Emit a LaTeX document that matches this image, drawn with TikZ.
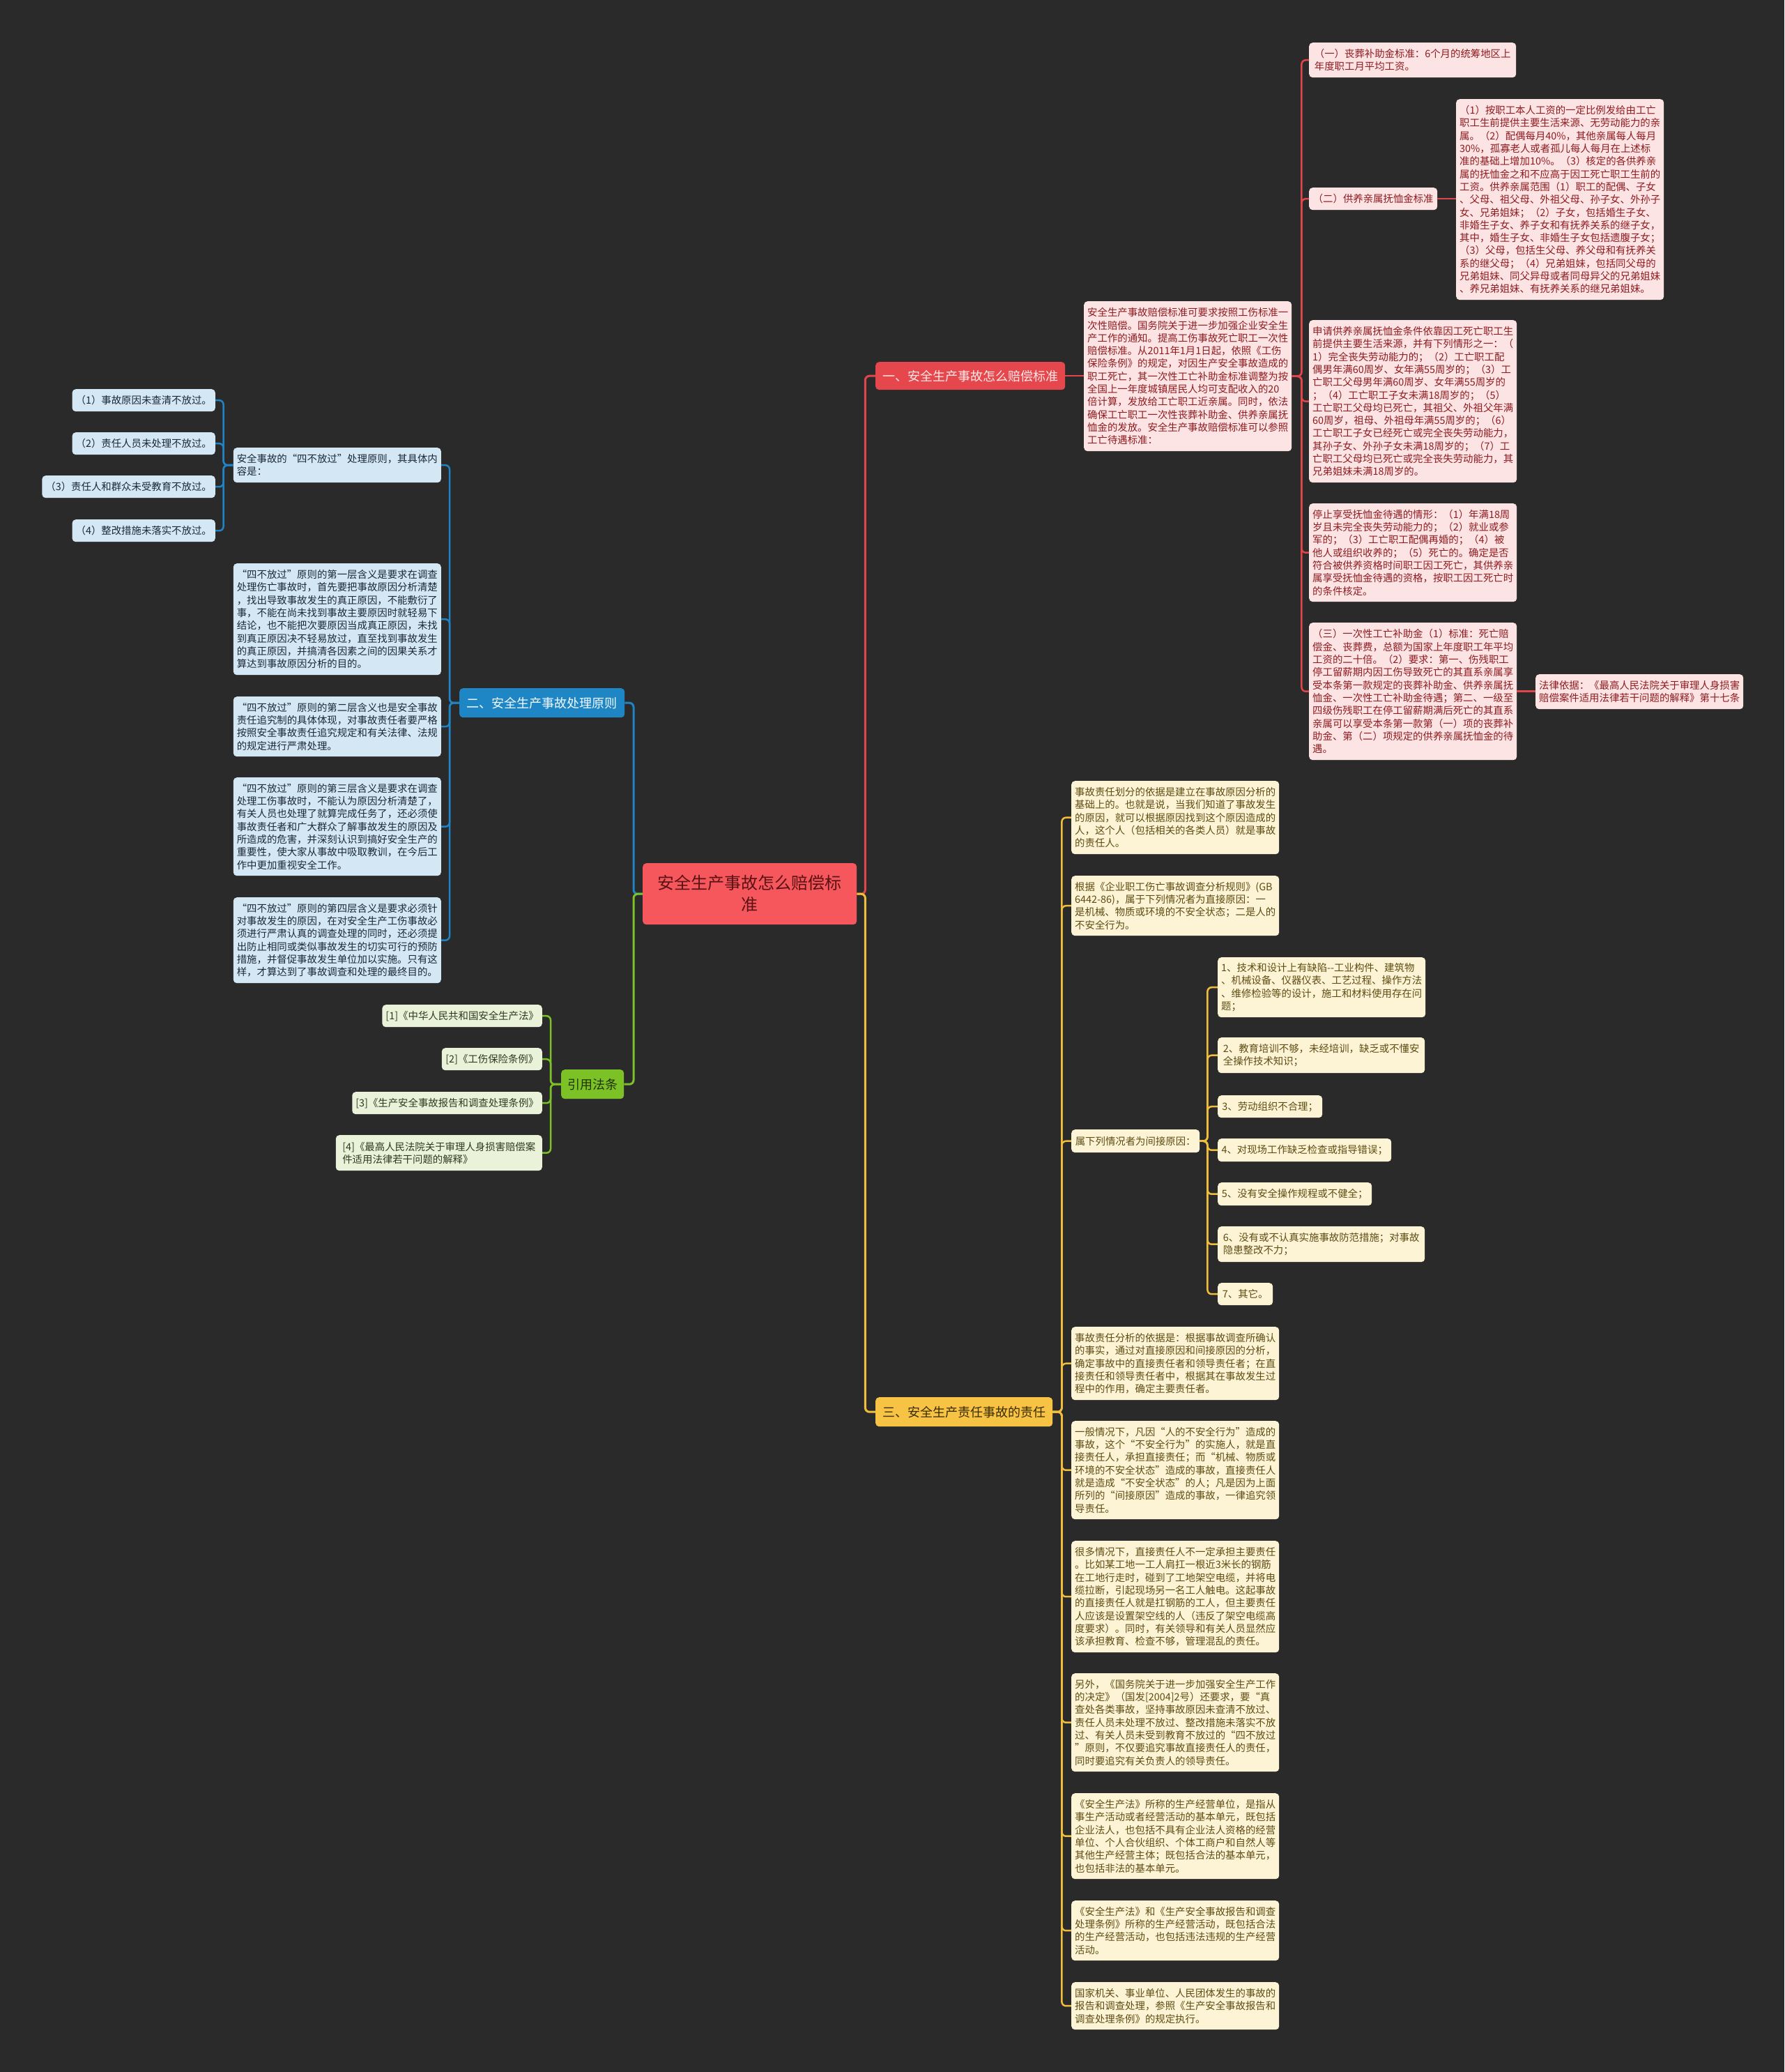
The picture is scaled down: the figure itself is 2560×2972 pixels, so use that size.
\documentclass[tikz,border=0pt]{standalone}
\usepackage{fontspec}
\setmainfont{Noto Sans CJK SC}
\newcommand\bodyf{\fontsize{14.4}{18.3}\selectfont}
\newcommand\brf{\fontsize{18}{22}\selectfont}
\newcommand\rtf{\fontsize{24}{31}\selectfont}
\definecolor{bg}{HTML}{2A2A2A}
\definecolor{rootfill}{HTML}{F6575C}
\definecolor{roottext}{HTML}{5A1215}
\definecolor{pkbr}{HTML}{E6474C}
\definecolor{pkbrtext}{HTML}{FFE8E8}
\definecolor{pkline}{HTML}{E0474C}
\definecolor{pkfill}{HTML}{FDE4E4}
\definecolor{pktext}{HTML}{8E1B20}
\definecolor{blbr}{HTML}{1F86C6}
\definecolor{blbrtext}{HTML}{F2F9FF}
\definecolor{blline}{HTML}{2083C4}
\definecolor{blfill}{HTML}{D4E7F4}
\definecolor{bltext}{HTML}{1B2838}
\definecolor{gnbr}{HTML}{7CC227}
\definecolor{gnbrtext}{HTML}{1E3308}
\definecolor{gnline}{HTML}{7CC227}
\definecolor{gnfill}{HTML}{EAF3DA}
\definecolor{gntext}{HTML}{2E3A1E}
\definecolor{ylbr}{HTML}{F6C344}
\definecolor{ylbrtext}{HTML}{3B2C00}
\definecolor{ylline}{HTML}{F0BE3A}
\definecolor{ylfill}{HTML}{FDF4D6}
\definecolor{yltext}{HTML}{5E4C12}
\tikzset{
  boxbase/.style={rounded corners=5pt, inner xsep=5pt, inner ysep=5pt},
  pk/.style={boxbase, fill=pkfill, text=pktext, font=\bodyf, align=left},
  bl/.style={boxbase, fill=blfill, text=bltext, font=\bodyf, align=left},
  gn/.style={boxbase, fill=gnfill, text=gntext, font=\bodyf, align=left},
  yl/.style={boxbase, fill=ylfill, text=yltext, font=\bodyf, align=left},
  pkb/.style={boxbase, fill=pkbr, text=pkbrtext, font=\brf},
  blb/.style={boxbase, fill=blbr, text=blbrtext, font=\brf},
  gnb/.style={boxbase, fill=gnbr, text=gnbrtext, font=\brf},
  ylb/.style={boxbase, fill=ylbr, text=ylbrtext, font=\brf},
  rt/.style={boxbase, fill=rootfill, text=roottext, font=\rtf, align=center},
  pkl/.style={draw=pkline, line width=2.5pt, rounded corners=6pt},
  bll/.style={draw=blline, line width=2.5pt, rounded corners=6pt},
  gnl/.style={draw=gnline, line width=2.5pt, rounded corners=6pt},
  yll/.style={draw=ylline, line width=2.5pt, rounded corners=6pt},
  thick line/.style={line width=3pt}
}
\newcommand\mbL[7]{\node[#2,anchor=north west,minimum width=#5pt,minimum height=#6pt] (#1) at (#3,#4) {#7};}
\newcommand\mbR[7]{\node[#2,anchor=north east,minimum width=#5pt,minimum height=#6pt] (#1) at (#3,#4) {#7};}
\newcommand\cnR[4]{\draw[#1] (#2.east) -- ++(#4,0) |- (#3.west);}
\newcommand\cnL[4]{\draw[#1] (#2.west) -- ++(-#4,0) |- (#3.east);}
\begin{document}
\begin{tikzpicture}[x=1pt,y=-1pt]
\fill[bg] (0,0) rectangle (2560,2972);
\useasboundingbox (0,0) rectangle (2560,2972);

% root
\mbL{root}{rt}{922}{1238}{307}{88}{安全生产事故怎么赔偿标\\准}

% ---------- branch 1 (pink)
\mbL{b1}{pkb}{1256}{519}{272}{40}{一、安全生产事故怎么赔偿标准}
\mbL{p0}{pk}{1555}{432}{297}{215}{安全生产事故赔偿标准可要求按照工伤标准一\\次性赔偿。国务院关于进一步加强企业安全生\\产工作的通知。提高工伤事故死亡职工一次性\\赔偿标准。从2011年1月1日起，依照《工伤\\保险条例》的规定，对因生产安全事故造成的\\职工死亡，其一次性工亡补助金标准调整为按\\全国上一年度城镇居民人均可支配收入的20\\倍计算，发放给工亡职工近亲属。同时，依法\\确保工亡职工一次性丧葬补助金、供养亲属抚\\恤金的发放。安全生产事故赔偿标准可以参照\\工亡待遇标准：}
\mbL{p1}{pk}{1878}{61}{297}{50}{（一）丧葬补助金标准：6个月的统筹地区上\\年度职工月平均工资。}
\mbL{p2}{pk}{1878}{269}{184}{32}{（二）供养亲属抚恤金标准}
\mbL{p2a}{pk}{2089}{142}{297}{288}{（1）按职工本人工资的一定比例发给由工亡\\职工生前提供主要生活来源、无劳动能力的亲\\属。（2）配偶每月40\%，其他亲属每人每月\\30\%，孤寡老人或者孤儿每人每月在上述标\\准的基础上增加10\%。（3）核定的各供养亲\\属的抚恤金之和不应高于因工死亡职工生前的\\工资。供养亲属范围（1）职工的配偶、子女\\、父母、祖父母、外祖父母、孙子女、外孙子\\女、兄弟姐妹；（2）子女，包括婚生子女、\\非婚生子女、养子女和有抚养关系的继子女，\\其中，婚生子女、非婚生子女包括遗腹子女；\\（3）父母，包括生父母、养父母和有抚养关\\系的继父母；（4）兄弟姐妹，包括同父母的\\兄弟姐妹、同父异母或者同母异父的兄弟姐妹\\、养兄弟姐妹、有抚养关系的继兄弟姐妹。}
\mbL{p3}{pk}{1878}{459}{297}{233}{申请供养亲属抚恤金条件依靠因工死亡职工生\\前提供主要生活来源，并有下列情形之一：（\\1）完全丧失劳动能力的；（2）工亡职工配\\偶男年满60周岁、女年满55周岁的；（3）工\\亡职工父母男年满60周岁、女年满55周岁的\\；（4）工亡职工子女未满18周岁的；（5）\\工亡职工父母均已死亡，其祖父、外祖父年满\\60周岁，祖母、外祖母年满55周岁的；（6）\\工亡职工子女已经死亡或完全丧失劳动能力，\\其孙子女、外孙子女未满18周岁的；（7）工\\亡职工父母均已死亡或完全丧失劳动能力，其\\兄弟姐妹未满18周岁的。}
\mbL{p4}{pk}{1878}{722}{297}{141}{停止享受抚恤金待遇的情形：（1）年满18周\\岁且未完全丧失劳动能力的；（2）就业或参\\军的；（3）工亡职工配偶再婚的；（4）被\\他人或组织收养的；（5）死亡的。确定是否\\符合被供养资格时间职工因工死亡，其供养亲\\属享受抚恤金待遇的资格，按职工因工死亡时\\的条件核定。}
\mbL{p5}{pk}{1878}{893}{297}{197}{（三）一次性工亡补助金（1）标准：死亡赔\\偿金、丧葬费，总额为国家上年度职工年平均\\工资的二十倍。（2）要求：第一、伤残职工\\停工留薪期内因工伤导致死亡的其直系亲属享\\受本条第一款规定的丧葬补助金、供养亲属抚\\恤金、一次性工亡补助金待遇；第二、一级至\\四级伤残职工在停工留薪期满后死亡的其直系\\亲属可以享受本条第一款第（一）项的丧葬补\\助金、第（二）项规定的供养亲属抚恤金的待\\遇。}
\mbL{p5a}{pk}{2203}{967}{297}{50}{法律依据：《最高人民法院关于审理人身损害\\赔偿案件适用法律若干问题的解释》第十七条}

% ---------- branch 2 (blue)
\mbL{b2}{blb}{659}{987}{237}{42}{二、安全生产事故处理原则}
\mbR{ba}{bl}{633}{642}{297}{50}{安全事故的“四不放过”处理原则，其具体内\\容是：}
\mbR{bb}{bl}{633}{808}{297}{160}{“四不放过”原则的第一层含义是要求在调查\\处理伤亡事故时，首先要把事故原因分析清楚\\，找出导致事故发生的真正原因，不能敷衍了\\事，不能在尚未找到事故主要原因时就轻易下\\结论，也不能把次要原因当成真正原因，未找\\到真正原因决不轻易放过，直至找到事故发生\\的真正原因，并搞清各因素之间的因果关系才\\算达到事故原因分析的目的。}
\mbR{bc}{bl}{633}{999}{297}{86}{“四不放过”原则的第二层含义也是安全事故\\责任追究制的具体体现，对事故责任者要严格\\按照安全事故责任追究规定和有关法律、法规\\的规定进行严肃处理。}
\mbR{bd}{bl}{633}{1115}{297}{141}{“四不放过”原则的第三层含义是要求在调查\\处理工伤事故时，不能认为原因分析清楚了，\\有关人员也处理了就算完成任务了，还必须使\\事故责任者和广大群众了解事故发生的原因及\\所造成的危害，并深刻认识到搞好安全生产的\\重要性，使大家从事故中吸取教训，在今后工\\作中更加重视安全工作。}
\mbR{be}{bl}{633}{1287}{297}{123}{“四不放过”原则的第四层含义是要求必须针\\对事故发生的原因，在对安全生产工伤事故必\\须进行严肃认真的调查处理的同时，还必须提\\出防止相同或类似事故发生的切实可行的预防\\措施，并督促事故发生单位加以实施。只有这\\样，才算达到了事故调查和处理的最终目的。}
\mbR{ba1}{bl}{309}{558}{205}{32}{（1）事故原因未查清不放过。}
\mbR{ba2}{bl}{309}{620}{205}{32}{（2）责任人员未处理不放过。}
\mbR{ba3}{bl}{309}{682}{248}{32}{（3）责任人和群众未受教育不放过。}
\mbR{ba4}{bl}{309}{745}{205}{32}{（4）整改措施未落实不放过。}

% ---------- green
\mbL{g}{gnb}{805}{1534}{90}{42}{引用法条}
\mbR{g1}{gn}{778}{1441}{229}{32}{[1]《中华人民共和国安全生产法》}
\mbR{g2}{gn}{778}{1503}{144}{32}{[2]《工伤保险条例》}
\mbR{g3}{gn}{778}{1566}{272}{32}{[3]《生产安全事故报告和调查处理条例》}
\mbR{g4}{gn}{778}{1628}{296}{51}{[4]《最高人民法院关于审理人身损害赔偿案\\件适用法律若干问题的解释》}

% ---------- branch 3 (yellow)
\mbL{b3}{ylb}{1256}{2004}{254}{42}{三、安全生产责任事故的责任}
\mbL{y1}{yl}{1537}{1120}{297}{105}{事故责任划分的依据是建立在事故原因分析的\\基础上的。也就是说，当我们知道了事故发生\\的原因，就可以根据原因找到这个原因造成的\\人，这个人（包括相关的各类人员）就是事故\\的责任人。}
\mbL{y2}{yl}{1537}{1256}{297}{86}{根据《企业职工伤亡事故调查分析规则》(GB\\6442-86)，属于下列情况者为直接原因：一\\是机械、物质或环境的不安全状态；二是人的\\不安全行为。}
\mbL{y3}{yl}{1537}{1620}{184}{33}{属下列情况者为间接原因：}
\mbL{y4}{yl}{1537}{1903}{297}{105}{事故责任分析的依据是：根据事故调查所确认\\的事实，通过对直接原因和间接原因的分析，\\确定事故中的直接责任者和领导责任者；在直\\接责任和领导责任者中，根据其在事故发生过\\程中的作用，确定主要责任者。}
\mbL{y5}{yl}{1537}{2038}{297}{141}{一般情况下，凡因“人的不安全行为”造成的\\事故，这个“不安全行为”的实施人，就是直\\接责任人，承担直接责任；而“机械、物质或\\环境的不安全状态”造成的事故，直接责任人\\就是造成“不安全状态”的人；凡是因为上面\\所列的“间接原因”造成的事故，一律追究领\\导责任。}
\mbL{y6}{yl}{1537}{2210}{297}{160}{很多情况下，直接责任人不一定承担主要责任\\。比如某工地一工人肩扛一根近3米长的钢筋\\在工地行走时，碰到了工地架空电缆，并将电\\缆拉断，引起现场另一名工人触电。这起事故\\的直接责任人就是扛钢筋的工人，但主要责任\\人应该是设置架空线的人（违反了架空电缆高\\度要求）。同时，有关领导和有关人员显然应\\该承担教育、检查不够，管理混乱的责任。}
\mbL{y7}{yl}{1537}{2400}{297}{141}{另外，《国务院关于进一步加强安全生产工作\\的决定》（国发[2004]2号）还要求，要“真\\查处各类事故，坚持事故原因未查清不放过、\\责任人员未处理不放过、整改措施未落实不放\\过、有关人员未受到教育不放过的“四不放过\\”原则，不仅要追究事故直接责任人的责任，\\同时要追究有关负责人的领导责任。}
\mbL{y8}{yl}{1537}{2572}{297}{123}{《安全生产法》所称的生产经营单位，是指从\\事生产活动或者经营活动的基本单元，既包括\\企业法人，也包括不具有企业法人资格的经营\\单位、个人合伙组织、个体工商户和自然人等\\其他生产经营主体；既包括合法的基本单元，\\也包括非法的基本单元。}
\mbL{y9}{yl}{1537}{2726}{297}{86}{《安全生产法》和《生产安全事故报告和调查\\处理条例》所称的生产经营活动，既包括合法\\的生产经营活动，也包括违法违规的生产经营\\活动。}
\mbL{y10}{yl}{1537}{2843}{297}{68}{国家机关、事业单位、人民团体发生的事故的\\报告和调查处理，参照《生产安全事故报告和\\调查处理条例》的规定执行。}
\mbL{c1}{yl}{1747}{1373}{297}{86}{1、技术和设计上有缺陷-{}-工业构件、建筑物\\、机械设备、仪器仪表、工艺过程、操作方法\\、维修检验等的设计，施工和材料使用存在问\\题；}
\mbL{c2}{yl}{1747}{1488}{297}{51}{2、教育培训不够，未经培训，缺乏或不懂安\\全操作技术知识；}
\mbL{c3}{yl}{1747}{1571}{150}{32}{3、劳动组织不合理；}
\mbL{c4}{yl}{1747}{1633}{249}{33}{4、对现场工作缺乏检查或指导错误；}
\mbL{c5}{yl}{1747}{1696}{221}{33}{5、没有安全操作规程或不健全；}
\mbL{c6}{yl}{1747}{1759}{297}{51}{6、没有或不认真实施事故防范措施；对事故\\隐患整改不力；}
\mbL{c7}{yl}{1747}{1840}{79}{32}{7、其它。}

% ---------- connectors
\draw[pkl,thick line] (root.east) -- ++(12,0) |- (b1.west);
\draw[yll,thick line] (root.east) -- ++(12,0) |- (b3.west);
\draw[bll,thick line] (root.west) -- ++(-13,0) |- (b2.east);
\draw[gnl,thick line] (root.west) -- ++(-13,0) |- (g.east);

\draw[pkl] (b1.east) -- (b1.east -| p0.west);
\cnR{pkl}{p0}{p1}{14}
\cnR{pkl}{p0}{p2}{14}
\cnR{pkl}{p0}{p3}{14}
\cnR{pkl}{p0}{p4}{14}
\cnR{pkl}{p0}{p5}{14}
\draw[pkl] (p2.east) -- (p2.east -| p2a.west);
\draw[pkl] (p5.east) -- (p5.east -| p5a.west);

\cnL{bll}{b2}{ba}{14}
\cnL{bll}{b2}{bb}{14}
\cnL{bll}{b2}{bc}{14}
\cnL{bll}{b2}{bd}{14}
\cnL{bll}{b2}{be}{14}
\cnL{bll}{ba}{ba1}{14}
\cnL{bll}{ba}{ba2}{14}
\cnL{bll}{ba}{ba3}{14}
\cnL{bll}{ba}{ba4}{14}

\cnL{gnl}{g}{g1}{15}
\cnL{gnl}{g}{g2}{15}
\cnL{gnl}{g}{g3}{15}
\cnL{gnl}{g}{g4}{15}

\cnR{yll}{b3}{y1}{13}
\cnR{yll}{b3}{y2}{13}
\cnR{yll}{b3}{y3}{13}
\cnR{yll}{b3}{y4}{13}
\cnR{yll}{b3}{y5}{13}
\cnR{yll}{b3}{y6}{13}
\cnR{yll}{b3}{y7}{13}
\cnR{yll}{b3}{y8}{13}
\cnR{yll}{b3}{y9}{13}
\cnR{yll}{b3}{y10}{13}
\cnR{yll}{y3}{c1}{11}
\cnR{yll}{y3}{c2}{11}
\cnR{yll}{y3}{c3}{11}
\cnR{yll}{y3}{c4}{11}
\cnR{yll}{y3}{c5}{11}
\cnR{yll}{y3}{c6}{11}
\cnR{yll}{y3}{c7}{11}
\end{tikzpicture}
\end{document}
